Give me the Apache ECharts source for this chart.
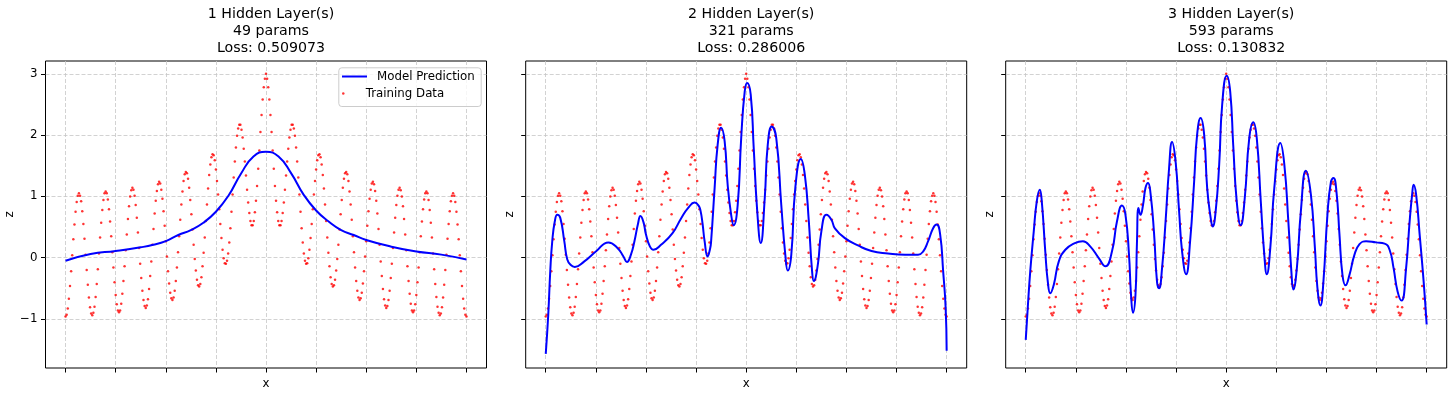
<!DOCTYPE html>
<html><head><meta charset="utf-8">
<script src="https://cdn.jsdelivr.net/npm/echarts@6/dist/echarts.min.js"></script>
<style>html,body{margin:0;padding:0;background:#fff}#c{width:1456px;height:395px}</style>
</head><body><div id="c"></div>
<script>
const layerNames = ['1 Hidden Layer(s)', '2 Hidden Layer(s)', '3 Hidden Layer(s)'];
const paramCounts = [49, 321, 593];
const losses = ['0.509073', '0.286006', '0.130832'];
const xTicks = [-4, -3, -2, -1, 0, 1, 2, 3, 4];
const yTicks = [-1, 0, 1, 2, 3];
const xRange = [-4, 4];

// training data (evenly spaced over xRange)
const trainZ = [
-0.96,-0.93,-0.83,-0.67,-0.46,-0.22,0.04,0.30,0.54,0.75,0.91,1.01,1.05,
1.01,0.92,0.76,0.55,0.31,0.05,-0.20,-0.44,-0.65,-0.81,-0.91,-0.94,-0.90,-0.80,-0.64,-0.43,-0.19,0.07,0.33,0.57,0.78,0.94,1.05,1.08,
1.05,0.95,0.79,0.59,0.35,0.09,-0.16,-0.40,-0.61,-0.76,-0.86,-0.89,-0.86,-0.75,-0.59,-0.38,-0.14,0.12,0.38,0.63,0.84,1.00,1.10,1.14,
1.11,1.01,0.86,0.65,0.41,0.16,-0.10,-0.33,-0.54,-0.69,-0.79,-0.82,-0.78,-0.68,-0.51,-0.30,-0.06,0.21,0.47,0.72,0.93,1.09,1.20,1.24,
1.21,1.11,0.96,0.76,0.52,0.27,0.02,-0.22,-0.42,-0.57,-0.66,-0.69,-0.65,-0.54,-0.38,-0.16,0.09,0.35,0.62,0.87,1.08,1.25,1.36,1.40,
1.38,1.29,1.14,0.94,0.71,0.46,0.21,-0.02,-0.21,-0.36,-0.45,-0.47,-0.43,-0.32,-0.14,0.08,0.33,0.60,0.87,1.13,1.35,1.52,1.64,1.69,
1.67,1.59,1.44,1.25,1.03,0.79,0.55,0.32,0.13,-0.01,-0.09,-0.10,-0.05,0.07,0.25,0.48,0.75,1.03,1.31,1.57,1.80,1.99,2.11,2.17,
2.17,2.09,1.96,1.78,1.57,1.34,1.11,0.90,0.73,0.60,0.53,0.53,0.60,0.74,0.93,1.17,1.45,1.75,2.05,2.33,2.58,2.78,2.92,
3.00,
2.92,2.78,2.58,2.33,2.05,1.75,1.45,1.17,0.93,0.74,0.60,0.53,0.53,0.60,0.73,0.90,1.11,1.34,1.57,1.78,1.96,2.09,2.17,
2.17,2.11,1.99,1.80,1.57,1.31,1.03,0.75,0.48,0.25,0.07,-0.05,-0.10,-0.09,-0.01,0.13,0.32,0.55,0.79,1.03,1.25,1.44,1.59,1.67,
1.69,1.64,1.52,1.35,1.13,0.87,0.60,0.33,0.08,-0.14,-0.32,-0.43,-0.47,-0.45,-0.36,-0.21,-0.02,0.21,0.46,0.71,0.94,1.14,1.29,1.38,
1.40,1.36,1.25,1.08,0.87,0.62,0.35,0.09,-0.16,-0.38,-0.54,-0.65,-0.69,-0.66,-0.57,-0.42,-0.22,0.02,0.27,0.52,0.76,0.96,1.11,1.21,
1.24,1.20,1.09,0.93,0.72,0.47,0.21,-0.06,-0.30,-0.51,-0.68,-0.78,-0.82,-0.79,-0.69,-0.54,-0.33,-0.10,0.16,0.41,0.65,0.86,1.01,1.11,
1.14,1.10,1.00,0.84,0.63,0.38,0.12,-0.14,-0.38,-0.59,-0.75,-0.86,-0.89,-0.86,-0.76,-0.61,-0.40,-0.16,0.09,0.35,0.59,0.79,0.95,1.05,
1.08,1.05,0.94,0.78,0.57,0.33,0.07,-0.19,-0.43,-0.64,-0.80,-0.90,-0.94,-0.91,-0.81,-0.65,-0.44,-0.20,0.05,0.31,0.55,0.76,0.92,1.01,
1.05,1.01,0.91,0.75,0.54,0.30,0.04,-0.22,-0.46,-0.67,-0.83,-0.93,-0.96
];

// model predictions
const pred1X = [-4.0,-3.5,-3.0,-2.5,-2.25,-2.0,-1.75,-1.5,-1.25,-1.0,-0.75,-0.5,-0.25,0,0.25,0.5,0.75,1.0,1.25,1.5,1.75,2.0,2.5,3.0,3.5,4.0];
const pred1Z = [-0.05,0.06,0.11,0.17,0.21,0.27,0.37,0.45,0.57,0.75,1.01,1.37,1.65,1.73,1.65,1.38,1.03,0.77,0.59,0.45,0.37,0.29,0.18,0.10,0.05,-0.03];

const pred2X = [-4.0,-3.95,-3.91,-3.87,-3.82,-3.77,-3.71,-3.63,-3.57,-3.50,-3.42,-3.23,-3.0,-2.75,-2.57,-2.45,-2.38,-2.30,-2.23,-2.16,-2.11,-2.05,-2.0,-1.92,-1.85,-1.70,-1.47,-1.30,-1.15,-1.03,-0.95,-0.91,-0.87,-0.83,-0.77,-0.72,-0.70,-0.63,-0.57,-0.50,-0.43,-0.37,-0.30,-0.25,-0.17,-0.10,-0.03,0.02,0.09,0.15,0.22,0.29,0.37,0.43,0.51,0.60,0.70,0.78,0.83,0.90,0.98,1.09,1.17,1.25,1.31,1.35,1.43,1.50,1.60,1.70,1.77,1.97,2.23,2.50,2.83,3.17,3.43,3.53,3.63,3.73,3.80,3.87,3.93,3.98,4.0];
const pred2Z = [-1.57,-0.93,-0.22,0.27,0.59,0.70,0.65,0.27,-0.03,-0.12,-0.15,-0.06,0.10,0.25,0.16,0.02,-0.07,0.05,0.27,0.55,0.68,0.58,0.38,0.18,0.13,0.21,0.40,0.64,0.82,0.90,0.85,0.76,0.55,0.27,0.02,0.15,0.27,1.14,1.84,2.12,1.90,1.19,0.70,0.53,0.86,1.95,2.71,2.85,2.66,1.79,0.76,0.24,0.97,1.84,2.14,1.95,0.86,0.05,-0.21,0.05,1.14,1.61,1.35,0.59,-0.17,-0.38,-0.11,0.43,0.70,0.62,0.48,0.32,0.20,0.11,0.07,0.05,0.05,0.10,0.27,0.48,0.54,0.38,-0.22,-0.82,-1.52];

const pred3X = [-4.0,-3.96,-3.91,-3.84,-3.78,-3.72,-3.68,-3.61,-3.56,-3.51,-3.44,-3.34,-3.21,-3.04,-2.86,-2.71,-2.54,-2.41,-2.28,-2.18,-2.08,-2.01,-1.94,-1.90,-1.86,-1.81,-1.78,-1.75,-1.71,-1.66,-1.61,-1.56,-1.51,-1.44,-1.38,-1.34,-1.28,-1.21,-1.14,-1.08,-1.01,-0.94,-0.88,-0.80,-0.72,-0.64,-0.58,-0.51,-0.44,-0.38,-0.31,-0.27,-0.21,-0.14,-0.08,0.01,0.08,0.14,0.21,0.29,0.37,0.46,0.54,0.61,0.69,0.76,0.81,0.88,0.96,1.08,1.16,1.24,1.30,1.34,1.41,1.49,1.59,1.69,1.77,1.82,1.88,1.94,2.02,2.09,2.14,2.20,2.26,2.32,2.38,2.46,2.56,2.66,2.79,2.99,3.16,3.26,3.34,3.42,3.50,3.59,3.66,3.71,3.74,3.79,3.86,3.94,4.0];
const pred3Z = [-1.34,-0.82,-0.22,0.43,0.92,1.11,0.92,0.10,-0.39,-0.58,-0.44,-0.06,0.13,0.23,0.27,0.18,-0.01,-0.14,0.10,0.59,0.85,0.70,0.05,-0.60,-0.90,-0.60,0.27,0.81,0.70,0.86,1.14,1.22,1.05,0.40,-0.40,-0.50,-0.17,0.59,1.46,1.89,1.57,0.76,0.10,-0.27,0.27,1.24,2.01,2.28,2.01,1.14,0.65,0.51,0.76,1.52,2.50,2.97,2.71,1.84,0.92,0.53,0.97,1.95,2.21,1.95,0.92,0.05,-0.27,0.16,1.14,1.87,1.52,0.59,-0.22,-0.52,-0.17,0.76,1.42,1.03,0.16,-0.49,-0.78,-0.39,0.70,1.24,1.30,1.08,0.38,-0.28,-0.45,-0.28,0.05,0.22,0.27,0.25,0.23,0.13,-0.17,-0.55,-0.70,-0.17,0.59,1.03,1.19,1.03,0.38,-0.39,-1.09];

const predX = [pred1X, pred2X, pred3X];
const predZ = [pred1Z, pred2Z, pred3Z];

const trainPts = trainZ.map((z, i) => [xRange[0] + (xRange[1] - xRange[0]) * i / (trainZ.length - 1), z]);

const FONT = 'DejaVu Sans';
const FS = 11.8;
const lefts = [45.5, 525.7, 1005.7];
const W = 441, TOP = 61, H = 307;
const centers = lefts.map(l => l + W / 2);
const minus = v => (v < 0 ? '\u2212' + Math.abs(v) : String(v));

const option = {
  animation: false,
  backgroundColor: '#fff',
  textStyle: { fontFamily: FONT },
  title: layerNames.map((n, i) => ({
    text: n + '\n' + paramCounts[i] + ' params\nLoss: ' + losses[i],
    left: centers[i], top: 1.5, textAlign: 'center',
    textStyle: { fontFamily: FONT, fontSize: 14.2, fontWeight: 'normal', color: '#000', lineHeight: 16.6 }
  })),
  grid: lefts.map(l => ({ left: l, top: TOP, width: W, height: H, show: true, borderColor: '#000', borderWidth: 1, backgroundColor: 'transparent' })),
  xAxis: lefts.map((l, i) => ({
    gridIndex: i, type: 'value', min: -4.4, max: 4.4, position: 'bottom',
    name: 'x', nameLocation: 'middle', nameGap: 10,
    nameTextStyle: { fontFamily: FONT, fontSize: FS, color: '#000', verticalAlign: 'top' },
    axisLine: { show: false, onZero: false },
    axisTick: { show: true, inside: false, length: 4.5, customValues: xTicks, lineStyle: { color: '#000', width: 1 } },
    axisLabel: { show: false, customValues: xTicks },
    splitLine: { show: true, lineStyle: { color: '#c6c6c6', width: 0.8, type: [4, 2] } }
  })),
  yAxis: lefts.map((l, i) => ({
    gridIndex: i, type: 'value', min: -1.80, max: 3.21, position: 'left',
    name: 'z', nameLocation: 'middle', nameGap: i === 0 ? 28 : 10, nameRotate: 90,
    nameTextStyle: { fontFamily: FONT, fontSize: FS, color: '#000' },
    axisLine: { show: false, onZero: false },
    axisTick: { show: true, inside: false, length: 4.5, customValues: yTicks, lineStyle: { color: '#000', width: 1 } },
    axisLabel: { show: i === 0, customValues: yTicks, margin: 8, fontFamily: FONT, fontSize: FS, color: '#000', formatter: minus },
    splitLine: { show: true, lineStyle: { color: '#c6c6c6', width: 0.8, type: [4, 2] } }
  })),
  legend: [
    { data: [{ name: 'Model Prediction', icon: 'rect' }], left: 342, top: 70.5, padding: 0, orient: 'vertical', itemWidth: 25, itemHeight: 2,
      itemStyle: { color: '#0000ff' },
      textStyle: { fontFamily: FONT, fontSize: FS, color: '#000', padding: [0, 0, 0, 5] }, selectedMode: false, z: 5 },
    { data: [{ name: 'Training Data', icon: 'circle' }], left: 342, top: 87.5, padding: 0, orient: 'vertical', itemWidth: 25, itemHeight: 2.5,
      textStyle: { fontFamily: FONT, fontSize: FS, color: '#000', padding: [0, 0, 0, 5] }, selectedMode: false, z: 5 }
  ],
  graphic: [{
    type: 'rect', left: 338.3, top: 67.3, z: 3,
    shape: { width: 142.4, height: 38.7, r: 3 },
    style: { fill: 'rgba(255,255,255,0.8)', stroke: '#cccccc', lineWidth: 1 }
  }],
  series: []
};

for (let i = 0; i < 3; i++) {
  option.series.push({
    name: 'Training Data', type: 'scatter', xAxisIndex: i, yAxisIndex: i,
    data: trainPts, symbol: 'circle', symbolSize: 2.5,
    itemStyle: { color: '#ff0000' }, z: 2, silent: true
  });
  option.series.push({
    name: 'Model Prediction', type: 'line', xAxisIndex: i, yAxisIndex: i,
    data: predX[i].map((x, k) => [x, predZ[i][k]]),
    symbol: 'none', smooth: 0.5,
    lineStyle: { color: '#0000ff', width: 2 }, itemStyle: { color: '#0000ff' }, z: 2.5, silent: true
  });
}

const chart = echarts.init(document.getElementById('c'), null, { renderer: 'canvas' });
chart.setOption(option);
</script></body></html>
